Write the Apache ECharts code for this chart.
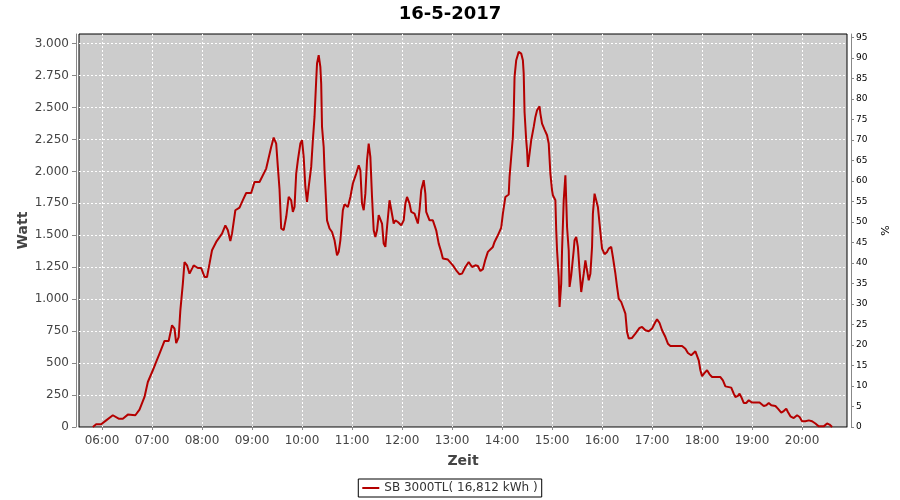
<!DOCTYPE html>
<html>
<head>
<meta charset="utf-8">
<script src="https://cdn.jsdelivr.net/npm/echarts@6/dist/echarts.min.js"></script>
<style>
html,body{margin:0;padding:0;background:#fff;}
#chart{width:900px;height:500px;}
</style>
</head>
<body>
<div id="chart"></div>
<script>
const chartTitle = '16-5-2017';
const seriesName = 'SB 3000TL( 16,812 kWh )';
const times = ['05:49','05:53','05:59','06:05','06:13','06:20','06:25','06:31','06:40','06:45','06:51','06:55',
'07:01','07:05','07:09','07:15','07:20','07:24','07:27','07:29','07:32','07:34','07:37','07:39','07:42','07:45','07:50','07:55','07:59',
'08:03','08:06','08:09','08:12','08:17','08:24','08:28','08:31','08:34','08:36','08:40','08:45','08:49','08:53','08:59',
'09:03','09:09','09:17','09:23','09:26','09:29','09:31','09:33','09:35','09:38','09:41','09:44','09:47','09:49','09:51','09:53','09:55','09:58',
'10:00','10:02','10:04','10:06','10:08','10:11','10:13','10:15','10:17','10:18','10:20','10:22','10:23','10:24','10:26','10:27','10:29','10:30','10:33','10:36','10:39','10:42','10:44','10:46','10:49','10:51','10:55','10:58',
'11:01','11:05','11:08','11:10','11:12','11:14','11:16','11:18','11:20','11:22','11:24','11:26','11:28','11:30','11:32','11:34','11:36','11:38','11:40','11:42','11:45','11:47','11:50','11:52','11:55','11:59',
'12:02','12:04','12:06','12:09','12:11','12:15','12:17','12:19','12:21','12:23','12:26','12:28','12:29','12:33','12:37','12:41','12:44','12:47','12:49','12:55',
'13:01','13:05','13:09','13:12','13:16','13:20','13:24','13:28','13:31','13:34','13:37','13:40','13:43','13:49','13:51','13:55','13:59',
'14:01','14:04','14:08','14:09','14:11','14:13','14:14','14:15','14:17','14:20','14:23','14:25','14:26','14:27','14:29','14:30','14:31','14:33','14:35','14:38','14:40','14:42','14:45','14:46','14:48','14:51','14:54','14:56','14:58',
'15:00','15:01','15:04','15:05','15:06','15:08','15:09','15:11','15:12','15:14','15:16','15:17','15:18','15:20','15:21','15:23','15:26','15:27','15:29','15:31','15:33','15:35','15:36','15:38','15:40','15:42','15:44','15:46','15:48','15:49','15:51','15:53','15:55','15:57','15:59',
'16:00','16:03','16:06','16:08','16:11','16:13','16:16','16:18','16:20','16:23','16:25','16:28','16:30','16:32','16:36','16:40','16:45','16:48','16:52','16:56',
'17:00','17:04','17:06','17:09','17:12','17:16','17:19','17:22','17:36','17:40','17:43','17:47','17:52','17:54','17:56','17:58',
'18:00','18:03','18:06','18:09','18:12','18:22','18:25','18:28','18:30','18:35','18:38','18:40','18:43','18:45','18:47','18:50','18:53','18:56',
'19:00','19:09','19:11','19:14','19:17','19:20','19:23','19:28','19:31','19:35','19:38','19:41','19:43','19:46','19:50','19:54','19:57',
'20:00','20:04','20:08','20:12','20:16','20:20','20:26','20:30','20:33','20:36'];
const watts = [0,21,21,52,92,65,65,97,92,136,235,352,
444,509,574,673,673,796,770,657,704,913,1122,1291,1265,1200,1265,1244,1244,
1174,1174,1278,1383,1448,1513,1578,1539,1456,1513,1696,1717,1775,1831,1831,
1917,1917,2022,2191,2265,2218,2035,1860,1553,1540,1643,1800,1774,1683,1722,1983,2087,2218,
2244,2113,1878,1761,1878,2035,2244,2426,2713,2844,2909,2817,2687,2348,2191,2009,1748,1617,1553,1526,1461,1344,1370,1461,1696,1743,1722,1800,
1905,1983,2048,2009,1748,1696,1826,2087,2218,2113,1800,1539,1487,1539,1657,1670,1592,1435,1409,1565,1774,1774,1592,1617,1604,1578,
1617,1748,1800,1748,1683,1670,1630,1592,1696,1852,1931,1826,1683,1617,1617,1539,1435,1370,1318,1310,
1265,1226,1195,1200,1252,1291,1252,1265,1260,1221,1235,1310,1370,1409,1448,1500,1560,
1670,1800,1819,1957,2113,2269,2439,2739,2870,2935,2922,2870,2765,2465,2244,2165,2035,2139,2244,2348,2426,2478,2509,2452,2374,2327,2283,2218,1983,
1852,1813,1774,1539,1383,1174,939,1122,1383,1774,1970,1774,1565,1383,1096,1187,1383,1461,1487,1409,1226,1056,1056,1200,1304,1226,1148,1200,1409,1670,1826,1826,1722,1592,1461,
1396,1352,1370,1396,1409,1330,1200,1096,1005,978,965,887,743,692,697,731,775,783,757,749,
770,822,843,814,757,704,652,634,634,613,579,561,592,587,522,444,
397,423,444,412,391,391,365,318,305,308,261,235,243,261,235,188,188,209,
191,191,183,164,170,188,170,164,144,113,125,144,117,84,70,92,78,
45,45,52,45,27,5,5,27,19,0];
const hourTicks = ['06:00','07:00','08:00','09:00','10:00','11:00','12:00','13:00','14:00','15:00','16:00','17:00','18:00','19:00','20:00'];
const wattTicks = [0,250,500,750,1000,1250,1500,1750,2000,2250,2500,2750,3000];
const percentTicks = [0,5,10,15,20,25,30,35,40,45,50,55,60,65,70,75,80,85,90,95];

function toMin(s){const p=s.split(':');return (+p[0])*60+(+p[1]);}
function fmtTime(v){const h=Math.floor(Math.round(v)/60),m=Math.round(v)%60;return (h<10?'0':'')+h+':'+(m<10?'0':'')+m;}
function fmtThousands(v){return String(v).replace(/\B(?=(\d{3})+(?!\d))/g,'.');}

const data = times.map((t,i)=>[toMin(t), watts[i]]);
const hourVals = hourTicks.map(toMin);

const FONT = 'DejaVu Sans';
const chart = echarts.init(document.getElementById('chart'), null, {renderer:'canvas'});
chart.setOption({
  animation:false,
  backgroundColor:'#ffffff',
  title:{text:chartTitle,left:'center',top:0,textStyle:{fontFamily:FONT,fontSize:18,fontWeight:'bold',color:'#000'}},
  legend:{
    data:[seriesName],bottom:3,left:'center',
    borderColor:'#000',borderWidth:1,padding:[3,4],
    icon:'rect',itemWidth:17,itemHeight:2,
    textStyle:{fontFamily:FONT,fontSize:12,color:'#333'}
  },
  grid:{left:79,right:52,top:34,bottom:73,show:true,backgroundColor:'#cccccc',borderColor:'#000',borderWidth:1,containLabel:false},
  xAxis:{
    type:'value',min:332.4,max:1253.9,offset:3,
    name:'Zeit',nameLocation:'middle',nameGap:24,
    nameTextStyle:{fontFamily:FONT,fontSize:14,fontWeight:'bold',color:'#444'},
    axisLine:{show:true,lineStyle:{color:'#888',width:1}},
    axisTick:{show:true,customValues:hourVals,length:3,lineStyle:{color:'#888'}},
    axisLabel:{customValues:hourVals,formatter:fmtTime,fontFamily:FONT,fontSize:12,color:'#444',margin:5},
    splitLine:{show:true,lineStyle:{color:'#ffffff',width:1,type:[2,2]}}
  },
  yAxis:[{
    type:'value',min:0,max:3075,offset:3,position:'left',
    name:'Watt',nameLocation:'middle',nameGap:46,nameMoveOverlap:false,
    nameTextStyle:{fontFamily:FONT,fontSize:14,fontWeight:'bold',color:'#444'},
    axisLine:{show:true,lineStyle:{color:'#888',width:1}},
    axisTick:{show:true,customValues:wattTicks,length:4,lineStyle:{color:'#888'}},
    axisLabel:{customValues:wattTicks,formatter:fmtThousands,fontFamily:FONT,fontSize:12,color:'#444',margin:7},
    splitLine:{show:true,lineStyle:{color:'#ffffff',width:1,type:[2,2]}}
  },{
    type:'value',min:0,max:95.85,offset:4,position:'right',
    name:'%',nameLocation:'middle',nameGap:30,
    nameTextStyle:{fontFamily:FONT,fontSize:11,color:'#000'},
    axisLine:{show:true,lineStyle:{color:'#888',width:1}},
    axisTick:{show:true,customValues:percentTicks,length:3,lineStyle:{color:'#888'}},
    axisLabel:{customValues:percentTicks,fontFamily:FONT,fontSize:9,color:'#000',margin:5},
    splitLine:{show:false}
  }],
  series:[{
    name:seriesName,type:'line',yAxisIndex:0,data:data,
    symbol:'none',showSymbol:false,
    lineStyle:{color:'#b40000',width:2},itemStyle:{color:'#b40000'}
  }]
});
</script>
</body>
</html>
